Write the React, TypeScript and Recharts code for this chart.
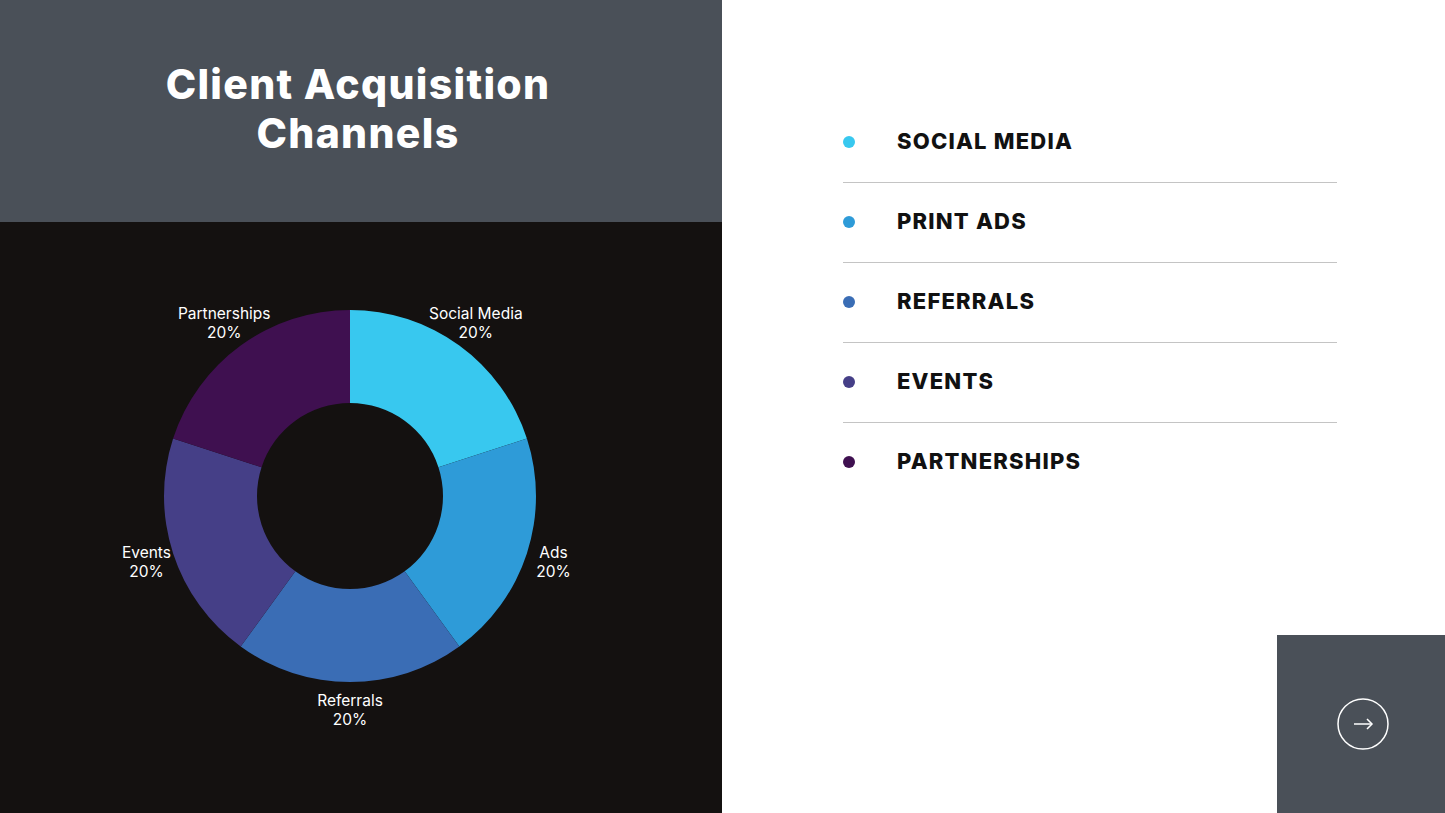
import React from 'react'
import { PieChart, Pie, Cell } from 'recharts'

const channels = ['Social Media', 'Ads', 'Referrals', 'Events', 'Partnerships']
const shares = [20, 20, 20, 20, 20]
const colors = ['#38c8ef', '#2e9bd8', '#3a6db5', '#453f87', '#3f1050']
const legendLabels = ['SOCIAL MEDIA', 'PRINT ADS', 'REFERRALS', 'EVENTS', 'PARTNERSHIPS']

const data = channels.map((name, i) => ({ name, value: shares[i] }))

const RAD = Math.PI / 180

const renderLabel = (props: any) => {
  const { cx, cy, midAngle, name, percent } = props
  const r = 214
  const x = cx + r * Math.cos(-midAngle * RAD)
  const y = cy + r * Math.sin(-midAngle * RAD)
  return (
    <text
      x={x}
      y={y}
      fill="#ffffff"
      textAnchor="middle"
      fontFamily="Inter, sans-serif"
      fontSize={15.5}
    >
      <tspan x={x} dy={-4}>{name}</tspan>
      <tspan x={x} dy={19}>{`${Math.round(percent * 100)}%`}</tspan>
    </text>
  )
}

const App = () => {
  return (
    <div
      style={{
        position: 'fixed',
        top: 0,
        left: 0,
        width: 1445,
        height: 813,
        background: '#ffffff',
        overflow: 'hidden',
        fontFamily: 'Inter, sans-serif'
      }}
    >
      {/* title block */}
      <div
        style={{
          position: 'absolute',
          left: 0,
          top: 0,
          width: 722,
          height: 222,
          background: '#4a5058'
        }}
      >
        <div
          style={{
            position: 'absolute',
            left: 0,
            width: 716,
            top: 60,
            textAlign: 'center',
            color: '#ffffff',
            fontWeight: 800,
            fontSize: 41,
            lineHeight: '49px',
            letterSpacing: '1.3px'
          }}
        >
          Client Acquisition
          <br />
          Channels
        </div>
      </div>

      {/* chart block */}
      <div
        style={{
          position: 'absolute',
          left: 0,
          top: 222,
          width: 722,
          height: 591,
          background: '#141110'
        }}
      >
        <PieChart width={722} height={591} margin={{ top: 0, right: 0, bottom: 0, left: 0 }}>
          <Pie
            data={data}
            dataKey="value"
            nameKey="name"
            cx={350}
            cy={274}
            innerRadius={93}
            outerRadius={186}
            startAngle={90}
            endAngle={-270}
            stroke="none"
            label={renderLabel}
            labelLine={false}
            isAnimationActive={false}
          >
            {data.map((d, i) => (
              <Cell key={d.name} fill={colors[i]} />
            ))}
          </Pie>
        </PieChart>
      </div>

      {/* legend list */}
      {legendLabels.map((label, i) => (
        <div key={label}>
          <div
            style={{
              position: 'absolute',
              left: 843,
              top: 136 + i * 80,
              width: 12,
              height: 12,
              borderRadius: 6,
              background: colors[i]
            }}
          />
          <div
            style={{
              position: 'absolute',
              left: 897,
              top: 126 + i * 80,
              height: 30,
              lineHeight: '30px',
              fontSize: 22,
              fontWeight: 800,
              letterSpacing: '1.2px',
              color: '#111111'
            }}
          >
            {label}
          </div>
          {i < legendLabels.length - 1 && (
            <div
              style={{
                position: 'absolute',
                left: 843,
                top: 182 + i * 80,
                width: 494,
                height: 1,
                background: '#c4c4c4'
              }}
            />
          )}
        </div>
      ))}

      {/* next button */}
      <div
        style={{
          position: 'absolute',
          left: 1277,
          top: 635,
          width: 168,
          height: 178,
          background: '#4a5058'
        }}
      >
        <svg width={168} height={178}>
          <circle cx={86} cy={89} r={25} fill="none" stroke="#ffffff" strokeWidth={1.5} />
          <line x1={77} y1={89} x2={95} y2={89} stroke="#ffffff" strokeWidth={1.5} />
          <polyline points="90,84 95,89 90,94" fill="none" stroke="#ffffff" strokeWidth={1.5} />
        </svg>
      </div>
    </div>
  )
}

export default App
